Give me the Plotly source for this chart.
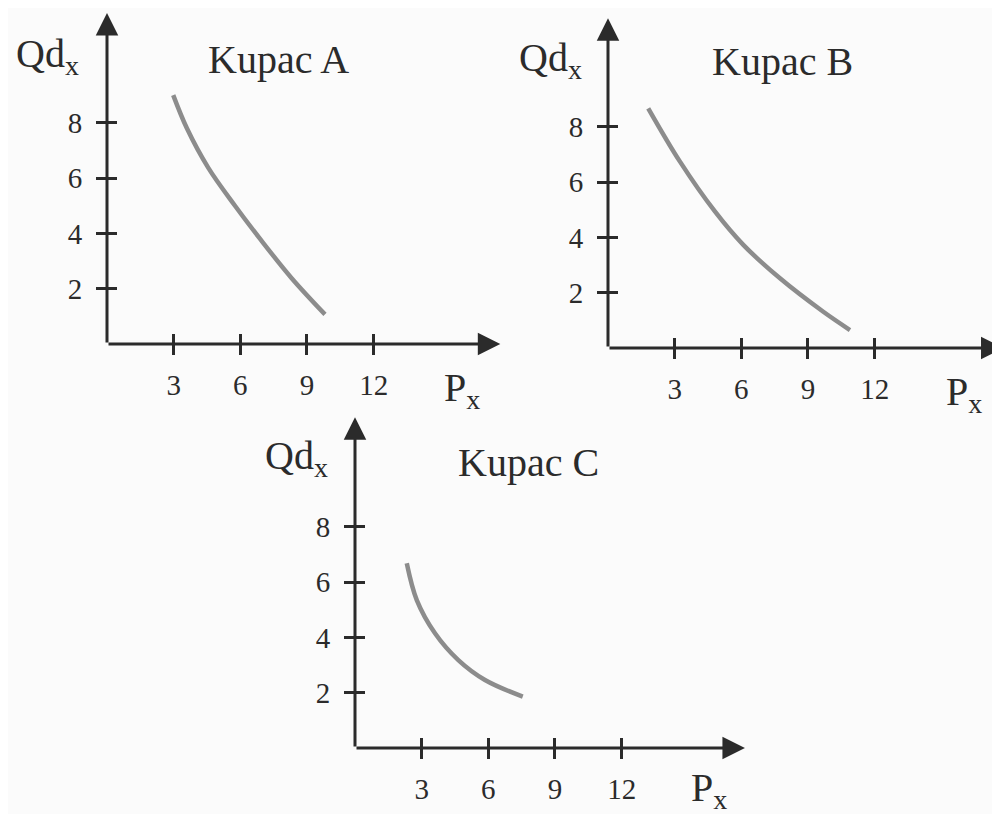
import plotly.graph_objects as go

# --- data ---
ticks_x = [3, 6, 9, 12]
ticks_y = [2, 4, 6, 8]

price_a = [2.98, 3.59, 4.56, 5.76, 6.89, 8.31, 9.81]
qty_a = [9.0, 7.81, 6.37, 5.0, 3.8, 2.38, 1.07]

price_b = [1.81, 3.24, 4.82, 6.09, 7.74, 9.69, 10.89]
qty_b = [8.67, 6.74, 4.93, 3.73, 2.52, 1.31, 0.65]

price_c = [2.33, 2.78, 3.60, 4.65, 5.85, 7.55]
qty_c = [6.68, 5.35, 4.15, 3.18, 2.46, 1.86]

titles = ["Kupac A", "Kupac B", "Kupac C"]

# the page body adds an 8px margin, so the figure is a bit smaller than the window
OFF = 8
W, H = 1000 - OFF, 814 - OFF
AXIS_COL = "#2b2b2b"
CURVE_COL = "#8c8c8c"
FONT = "Liberation Serif, Times New Roman, serif"
PX_X = 22.22   # pixels per price unit
PX_Y = 27.65   # pixels per quantity unit

# panel origin in window pixels, arrow tips (data units), label centres (pixels)
panels = [
    dict(ox=107, oy=344, xtip=17.7, ytip=11.97, qd=(81, 56), kp=(278, 60), px=(482, 390)),
    dict(ox=608, oy=348, xtip=17.8, ytip=11.93, qd=(584, 60), kp=(782, 62), px=(984, 394)),
    dict(ox=355, oy=748, xtip=17.55, ytip=11.96, qd=(330, 458), kp=(528, 462), px=(729, 790)),
]
curves = [(price_a, qty_a), (price_b, qty_b), (price_c, qty_c)]


def px2paper(x, y):
    return (x - OFF) / W, 1 - (y - OFF) / H


fig = go.Figure()
layout = dict(
    width=W, height=H,
    margin=dict(l=0, r=0, t=0, b=0),
    paper_bgcolor="#fbfbfb", plot_bgcolor="rgba(0,0,0,0)",
    showlegend=False,
    font=dict(family=FONT, color=AXIS_COL, size=28),
)
annotations = []

for i, (p, (px_vals, q_vals)) in enumerate(zip(panels, curves)):
    n = i + 1
    s = "" if n == 1 else str(n)
    m = n + 3
    xr = min(18.0, (1000 - p["ox"]) / PX_X)
    yr = min(12.3, (p["oy"] - OFF) / PX_Y)
    x0, _ = px2paper(p["ox"], 0)
    x1, _ = px2paper(p["ox"] + xr * PX_X, 0)
    _, y0 = px2paper(0, p["oy"])
    _, y1 = px2paper(0, p["oy"] - yr * PX_Y)
    x1, y1 = min(1.0, x1), min(1.0, y1)

    axis_common = dict(showgrid=False, zeroline=False, showline=False,
                       tickcolor=AXIS_COL, tickwidth=2.5, ticklen=10)
    layout[f"xaxis{s}"] = dict(domain=[x0, x1], range=[0, xr], tickvals=ticks_x,
                               ticks="outside", ticklabelstandoff=5,
                               tickfont=dict(size=29, family=FONT, color=AXIS_COL),
                               anchor=f"y{s}", **axis_common)
    layout[f"yaxis{s}"] = dict(domain=[y0, y1], range=[0, yr], tickvals=ticks_y,
                               ticks="outside", ticklabelstandoff=8,
                               tickfont=dict(size=29, family=FONT, color=AXIS_COL),
                               anchor=f"x{s}", **axis_common)
    # overlay axes draw the inner half of the crossing tick marks
    layout[f"xaxis{m}"] = dict(domain=[x0, x1], range=[0, xr], tickvals=ticks_x,
                               ticks="inside", showticklabels=False,
                               overlaying=f"x{s}", anchor=f"y{m}", **axis_common)
    layout[f"yaxis{m}"] = dict(domain=[y0, y1], range=[0, yr], tickvals=ticks_y,
                               ticks="inside", showticklabels=False,
                               overlaying=f"y{s}", anchor=f"x{m}", **axis_common)

    xref, yref = f"x{s}", f"y{s}"
    fig.add_trace(go.Scatter(x=px_vals, y=q_vals, mode="lines", line_shape="spline",
                             line=dict(color=CURVE_COL, width=4.5),
                             xaxis=xref, yaxis=yref, hoverinfo="skip"))
    fig.add_trace(go.Scatter(x=[None], y=[None], mode="lines",
                             xaxis=f"x{m}", yaxis=f"y{m}", hoverinfo="skip"))

    # axis lines with arrowheads
    for tip in [(p["xtip"], 0), (0, p["ytip"])]:
        annotations.append(dict(x=tip[0], y=tip[1], ax=0, ay=0, xref=xref, yref=yref,
                                axref=xref, ayref=yref, text="", showarrow=True,
                                arrowhead=2, arrowsize=1.5, arrowwidth=3,
                                arrowcolor=AXIS_COL))

    big = dict(size=40, family=FONT, color=AXIS_COL)
    qx, qy = px2paper(*p["qd"])
    annotations.append(dict(x=qx, y=qy, xref="paper", yref="paper", showarrow=False,
                            xanchor="right", yanchor="middle",
                            text="Qd<sub>x</sub>", font=big))
    kx, ky = px2paper(*p["kp"])
    annotations.append(dict(x=kx, y=ky, xref="paper", yref="paper", showarrow=False,
                            xanchor="center", yanchor="middle",
                            text=titles[i], font=big))
    ppx, ppy = px2paper(*p["px"])
    annotations.append(dict(x=ppx, y=ppy, xref="paper", yref="paper", showarrow=False,
                            xanchor="right", yanchor="middle",
                            text="P<sub>x</sub>", font=big))

layout["annotations"] = annotations
fig.update_layout(**layout)

fig.write_html("out.html")
